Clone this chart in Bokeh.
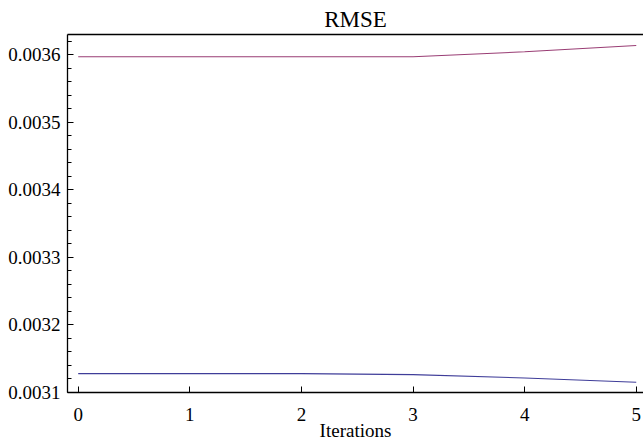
from bokeh.plotting import figure
from bokeh.models import Range1d, FixedTicker, LinearAxis, PrintfTickFormatter
from bokeh.embed import file_html
from bokeh.resources import INLINE

# ---- data ----
iterations = [0, 1, 2, 3, 4, 5]
rmse_series_1 = [0.003128, 0.003128, 0.003128, 0.0031264, 0.0031215, 0.0031151]
rmse_series_2 = [0.003597, 0.003597, 0.003597, 0.003597, 0.0036044, 0.0036138]
x_tick_values = [0, 1, 2, 3, 4, 5]
y_tick_values = [0.0031, 0.0032, 0.0033, 0.0034, 0.0035, 0.0036]
title_text = "RMSE"
x_label = "Iterations"

FONT = "Liberation Serif"
C1 = "#3f3d99"
C2 = "#993d74"

y_minor = []
for i in range(len(y_tick_values)):
    for k in range(5):
        y_minor.append(y_tick_values[0] + (i * 5 + k) * 0.00002)
y_minor.append(y_tick_values[-1] + 0.00002)

p = figure(width=643, height=443, output_backend="svg", toolbar_location=None,
           x_range=Range1d(-0.096, 5.065), y_range=Range1d(0.0031, 0.00363),
           min_border_left=67, min_border_right=0, min_border_top=34, min_border_bottom=0)

p.outline_line_color = None
p.grid.visible = False
p.background_fill_color = "white"
p.border_fill_color = "white"

p.line(iterations, rmse_series_1, line_color=C1, line_width=1.1)
p.line(iterations, rmse_series_2, line_color=C2, line_width=1.1)

xa = p.xaxis[0]
xa.ticker = FixedTicker(ticks=x_tick_values)
xa.axis_label = x_label
ya = p.yaxis[0]
ya.ticker = FixedTicker(ticks=y_tick_values, minor_ticks=y_minor)
ya.formatter = PrintfTickFormatter(format="%.4f")

for ax in (xa, ya):
    ax.axis_line_color = "black"
    ax.axis_line_width = 1.3
    ax.major_tick_line_color = "black"
    ax.minor_tick_line_color = "black"
    ax.major_tick_in = 6
    ax.major_tick_out = 0
    ax.minor_tick_in = 4
    ax.minor_tick_out = 0
    ax.major_label_text_font = FONT
    ax.major_label_text_font_size = "19px"
    ax.major_label_text_color = "black"
    ax.axis_label_text_font = FONT
    ax.axis_label_text_font_size = "19px"
    ax.axis_label_text_font_style = "normal"
    ax.axis_label_text_color = "black"
xa.minor_tick_line_color = None
xa.major_label_standoff = 15
xa.axis_label_standoff = -4
ya.major_label_standoff = 7

top = LinearAxis(ticker=FixedTicker(ticks=[]), major_label_text_font_size="0px",
                 major_tick_line_color=None, minor_tick_line_color=None,
                 axis_line_color="black", axis_line_width=1.3)
p.add_layout(top, "above")

p.title.text = title_text
p.title.align = "center"
p.title.text_font = FONT
p.title.text_font_size = "23px"
p.title.text_font_style = "normal"
p.title.text_color = "black"
p.title.standoff = 5

open("out.html", "w").write(file_html(p, INLINE))
